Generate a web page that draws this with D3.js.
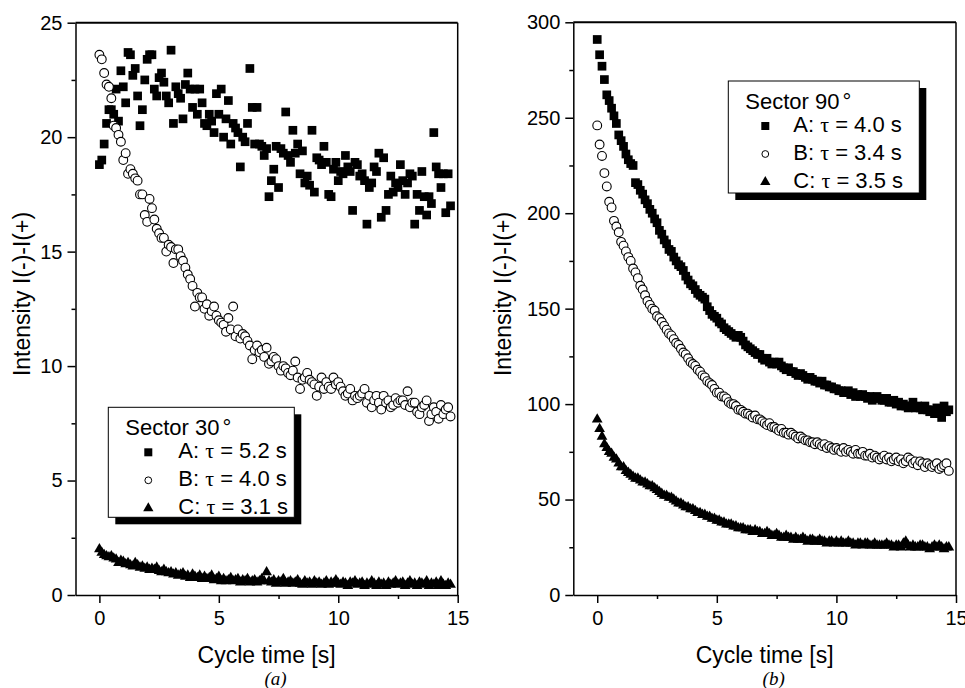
<!DOCTYPE html>
<html>
<head>
<meta charset="utf-8">
<script src="https://cdn.jsdelivr.net/npm/d3@7"></script>
<style>
  html, body { margin: 0; padding: 0; background: #fff; }
  svg { display: block; font-family: "Liberation Sans", Arial, Helvetica, sans-serif; }
</style>
</head>
<body>
<div id="chart-container"></div>
<script>
// Cycle time [s] sampling shared by all series
const cycleTime = [
  0.0, 0.1, 0.2, 0.3, 0.4, 0.5, 0.6, 0.7, 0.8, 0.9,
  1.0, 1.1, 1.2, 1.3, 1.4, 1.5, 1.6, 1.7, 1.8, 1.9,
  2.0, 2.1, 2.2, 2.3, 2.4, 2.5, 2.6, 2.7, 2.8, 2.9,
  3.0, 3.1, 3.2, 3.3, 3.4, 3.5, 3.6, 3.7, 3.8, 3.9,
  4.0, 4.1, 4.2, 4.3, 4.4, 4.5, 4.6, 4.7, 4.8, 4.9,
  5.0, 5.1, 5.2, 5.3, 5.4, 5.5, 5.6, 5.7, 5.8, 5.9,
  6.0, 6.1, 6.2, 6.3, 6.4, 6.5, 6.6, 6.7, 6.8, 6.9,
  7.0, 7.1, 7.2, 7.3, 7.4, 7.5, 7.6, 7.7, 7.8, 7.9,
  8.0, 8.1, 8.2, 8.3, 8.4, 8.5, 8.6, 8.7, 8.8, 8.9,
  9.0, 9.1, 9.2, 9.3, 9.4, 9.5, 9.6, 9.7, 9.8, 9.9,
  10.0, 10.1, 10.2, 10.3, 10.4, 10.5, 10.6, 10.7, 10.8, 10.9,
  11.0, 11.1, 11.2, 11.3, 11.4, 11.5, 11.6, 11.7, 11.8, 11.9,
  12.0, 12.1, 12.2, 12.3, 12.4, 12.5, 12.6, 12.7, 12.8, 12.9,
  13.0, 13.1, 13.2, 13.3, 13.4, 13.5, 13.6, 13.7, 13.8, 13.9,
  14.0, 14.1, 14.2, 14.3, 14.4, 14.5, 14.6, 14.7
];

// (a) Sector 30°
const sector30A = [
  18.8, 19.0, 19.7, 20.6, 21.2, 21.2, 21.0, 22.1, 20.7, 22.9,
  22.2, 21.5, 23.7, 23.6, 22.7, 23.0, 21.8, 20.5, 21.2, 22.5,
  23.4, 23.6, 23.6, 22.1, 21.8, 22.6, 22.8, 22.4, 21.8, 21.5,
  23.8, 20.6, 22.2, 21.9, 21.7, 20.8, 22.3, 22.8, 22.1, 21.3,
  22.1, 21.0, 22.1, 21.5, 20.6, 20.5, 21.0, 20.7, 20.2, 21.9,
  21.0, 22.1, 20.0, 20.8, 21.6, 19.7, 20.6, 20.4, 20.2, 18.7,
  20.0, 19.8, 20.6, 23.0, 21.3, 19.7, 21.3, 19.7, 19.6, 19.2,
  19.5, 17.4, 18.1, 18.6, 19.6, 17.8, 19.5, 19.3, 21.1, 19.2,
  18.9, 20.3, 19.3, 19.7, 18.4, 19.4, 18.0, 18.3, 17.9, 20.3,
  17.6, 19.1, 19.0, 18.8, 19.6, 18.9, 17.5, 17.4, 18.6, 18.9,
  18.1, 18.5, 18.4, 19.2, 18.7, 18.5, 16.8, 18.9, 18.8, 18.3,
  18.4, 18.1, 16.2, 17.8, 18.0, 18.7, 18.5, 19.3, 16.5, 19.1,
  16.8, 17.5, 18.3, 17.6, 18.0, 17.8, 18.8, 18.1, 17.5, 18.0,
  18.4, 18.3, 16.2, 17.5, 16.8, 18.5, 17.4, 16.6, 17.4, 17.1,
  20.2, 18.7, 18.4, 17.8, 18.4, 16.7, 18.4, 17.0
];
const sector30B = [
  23.6, 23.4, 22.8, 22.3, 22.2, 21.7, 20.5, 20.4, 20.1, 19.8,
  19.0, 19.3, 18.4, 18.6, 18.4, 18.2, 18.1, 17.5, 17.5, 16.6,
  16.3, 17.3, 16.9, 16.4, 16.0, 15.8, 15.6, 15.6, 15.0, 15.3,
  15.2, 14.5, 15.1, 15.1, 14.8, 14.6, 14.3, 14.0, 13.8, 13.5,
  12.6, 13.2, 13.0, 13.0, 12.5, 12.7, 12.2, 12.4, 12.6, 12.2,
  12.0, 11.9, 11.8, 11.5, 12.1, 11.6, 12.6, 11.3, 11.6, 11.2,
  11.4, 11.3, 11.1, 10.9, 10.3, 10.7, 10.9, 10.6, 10.7, 10.4,
  10.8, 10.1, 10.2, 10.4, 10.3, 10.0, 9.8, 10.0, 9.9, 9.7,
  9.6, 9.8, 10.2, 9.5, 9.0, 9.4, 9.5, 9.7, 9.4, 9.3,
  9.2, 8.7, 9.1, 9.5, 9.0, 9.3, 9.1, 9.0, 9.5, 9.2,
  9.3, 9.1, 8.9, 8.7, 8.8, 9.0, 8.5, 8.7, 8.6, 8.7,
  8.8, 9.0, 8.4, 8.7, 8.2, 8.5, 8.7, 8.4, 8.1, 8.7,
  8.4, 8.5, 8.2, 8.3, 8.6, 8.4, 8.5, 8.5, 8.3, 8.9,
  8.2, 8.4, 8.4, 8.0, 7.9, 8.2, 8.3, 8.5, 7.6, 7.9,
  8.2, 8.0, 7.7, 8.3, 7.9, 8.1, 8.2, 7.8
];
const sector30C = [
  2.0, 1.85, 1.75, 1.7, 1.65, 1.7, 1.6, 1.55, 1.4, 1.5,
  1.45, 1.35, 1.4, 1.3, 1.25, 1.4, 1.3, 1.2, 1.25, 1.15,
  1.2, 1.1, 1.15, 1.1, 1.2, 1.05, 1.0, 1.1, 1.0, 0.95,
  1.0, 0.9, 0.95, 0.85, 0.9, 0.95, 0.8, 0.85, 0.75, 0.9,
  0.8, 0.75, 0.85, 0.7, 0.8, 0.7, 0.75, 0.85, 0.65, 0.7,
  0.8, 0.6, 0.7, 0.6, 0.65, 0.75, 0.6, 0.65, 0.7, 0.55,
  0.65, 0.6, 0.7, 0.55, 0.6, 0.65, 0.55, 0.6, 0.7, 0.6,
  1.0, 0.6, 0.55, 0.65, 0.5, 0.6, 0.55, 0.7, 0.5, 0.55,
  0.6, 0.5, 0.55, 0.65, 0.5, 0.45, 0.6, 0.5, 0.55, 0.45,
  0.6, 0.5, 0.55, 0.45, 0.5, 0.6, 0.45, 0.55, 0.5, 0.65,
  0.5, 0.45, 0.55, 0.5, 0.4, 0.55, 0.5, 0.6, 0.45, 0.5,
  0.55, 0.4, 0.5, 0.45, 0.6, 0.5, 0.4, 0.55, 0.45, 0.5,
  0.4, 0.55, 0.45, 0.5, 0.6, 0.45, 0.5, 0.55, 0.4, 0.5,
  0.6, 0.45, 0.5, 0.4, 0.55, 0.5, 0.45, 0.6, 0.4, 0.5,
  0.45, 0.55, 0.4, 0.6, 0.45, 0.4, 0.5, 0.45
];

// (b) Sector 90°
const sector90A = [
  291, 283, 277, 270, 262, 259, 255, 251, 247, 241,
  238, 235, 231, 228, 226, 225, 216, 215, 212, 210,
  207, 205, 202, 200, 197, 195, 191, 189, 186, 184,
  181, 180, 177, 175, 173, 172, 170, 167, 165, 163,
  162, 160, 158, 157, 156, 155, 151, 149, 147, 146,
  145, 143, 142, 140, 139, 138, 137, 136, 135, 136,
  135, 133, 131, 130, 129, 128, 127, 126, 126, 124,
  123, 124, 122, 121, 122, 121, 122, 120, 119, 118,
  119, 117, 117, 116, 115, 116, 115, 114, 113, 114,
  113, 112, 112, 111, 112, 110, 110, 109, 109, 108,
  108, 107, 107, 106, 106, 107, 105, 106, 104, 105,
  104, 105, 104, 103, 104, 102, 103, 104, 103, 102,
  102, 103, 101, 101, 102, 100, 101, 99, 100, 99,
  98, 99, 101, 98, 99, 98, 97, 99, 97, 96,
  97, 95, 98, 96, 93, 99, 96, 97
];
const sector90B = [
  246, 236, 230, 221, 214, 206, 203, 196, 193, 190,
  185, 183, 180, 177, 175, 171, 169, 166, 162, 160,
  157, 154, 152, 150, 149, 146, 145, 143, 141, 139,
  137, 136, 134, 132, 131, 129, 127, 126, 124, 122,
  121, 120, 118, 117, 115, 114, 112, 111, 110, 108,
  106, 106, 104, 104, 103, 101, 100, 100, 99, 97,
  97, 96, 95, 95, 94, 93, 94, 92, 92, 91,
  90, 89, 90, 88, 88, 87, 86, 87, 85, 85,
  84, 85, 84, 83, 82, 83, 82, 81, 81, 80,
  80, 79, 80, 79, 78, 79, 77, 78, 77, 76,
  77, 76, 75, 77, 75, 76, 75, 74, 76, 74,
  74, 75, 73, 73, 74, 72, 73, 72, 71, 72,
  73, 71, 72, 70, 71, 72, 70, 71, 69, 70,
  72, 71, 69, 70, 68, 70, 69, 67, 69, 68,
  67, 68, 69, 66, 67, 68, 69, 65
];
const sector90C = [
  92, 87, 83, 79, 77, 75, 74, 72, 71, 69,
  67, 67, 65, 64, 63, 62, 61, 61, 60, 59,
  59, 58, 57, 57, 56, 55, 54, 53, 52, 52,
  51, 51, 50, 49, 48, 48, 47, 46, 46, 45,
  45, 44, 43, 43, 42, 42, 41, 41, 40, 40,
  39, 39, 38, 38, 37, 37, 37, 36, 36, 35,
  35, 35, 34, 34, 34, 33, 34, 33, 33, 32,
  32, 33, 32, 31, 31, 32, 31, 30, 30, 31,
  30, 30, 29, 30, 29, 29, 30, 29, 28, 29,
  29, 28, 28, 29, 28, 28, 27, 28, 28, 27,
  28, 27, 28, 27, 27, 28, 27, 27, 26, 27,
  27, 26, 27, 27, 26, 26, 27, 26, 26, 26,
  26, 27, 26, 26, 25, 26, 26, 25, 27, 28,
  26, 25, 26, 25, 25, 26, 26, 25, 25, 24,
  25, 26, 25, 26, 25, 24, 25, 25
];

// legends and ticks
const legendLabels = ["A: ", "B: ", "C: "];
const legend30Values = ["5.2 s", "4.0 s", "3.1 s"];
const legend90Values = ["4.0 s", "3.4 s", "3.5 s"];
const xTicks = [0, 5, 10, 15];
const xMinorTicks = [2.5, 7.5, 12.5];
const yTicks30 = [0, 5, 10, 15, 20, 25];
const yMinorTicks30 = [2.5, 7.5, 12.5, 17.5, 22.5];
const yTicks90 = [0, 50, 100, 150, 200, 250, 300];
const yMinorTicks90 = [25, 75, 125, 175, 225, 275];

const width = 965;
const height = 688;

const svg = d3.select("#chart-container")
    .append("svg")
    .attr("width", width)
    .attr("height", height);

function drawPanel(cfg) {
    const x = d3.scaleLinear().domain([-1, 15]).range([cfg.left, cfg.right]);
    const y = d3.scaleLinear().domain([0, cfg.yMax]).range([cfg.bottom, cfg.top]);
    const g = svg.append("g");

    // minor ticks
    g.append("g")
        .attr("transform", `translate(${cfg.left},0)`)
        .call(d3.axisLeft(y).tickValues(cfg.yMinor).tickSize(4).tickSizeOuter(0).tickFormat(""))
        .call(s => s.select(".domain").remove());
    g.append("g")
        .attr("transform", `translate(0,${cfg.bottom})`)
        .call(d3.axisBottom(x).tickValues(xMinorTicks).tickSize(4).tickSizeOuter(0).tickFormat(""))
        .call(s => s.select(".domain").remove());

    // major axes
    g.append("g")
        .attr("transform", `translate(${cfg.left},0)`)
        .call(d3.axisLeft(y).tickValues(cfg.yTicks).tickSize(8).tickSizeOuter(0).tickPadding(5));
    g.append("g")
        .attr("transform", `translate(0,${cfg.bottom})`)
        .call(d3.axisBottom(x).tickValues(xTicks).tickSize(8).tickSizeOuter(0).tickPadding(8));

    g.selectAll(".tick text").style("font-size", "20px").attr("fill", "#000");
    g.selectAll(".tick line, .domain").attr("stroke", "#000").attr("stroke-width", 1.5);

    // frame top + right
    g.append("path")
        .attr("d", `M${cfg.left},${cfg.top}H${cfg.right}`)
        .attr("stroke", "#000")
        .attr("stroke-width", 2);
    g.append("path")
        .attr("d", `M${cfg.right},${cfg.top}V${cfg.bottom}`)
        .attr("stroke", "#000")
        .attr("stroke-width", 1.5);

    // series A: filled squares
    g.append("g").selectAll("rect")
        .data(cfg.a)
        .join("rect")
        .attr("x", (d, i) => x(cycleTime[i]) - cfg.sq / 2)
        .attr("y", d => y(d) - cfg.sq / 2)
        .attr("width", cfg.sq)
        .attr("height", cfg.sq)
        .attr("fill", "#000");

    // series B: open circles
    g.append("g").selectAll("circle")
        .data(cfg.b)
        .join("circle")
        .attr("cx", (d, i) => x(cycleTime[i]))
        .attr("cy", d => y(d))
        .attr("r", cfg.r)
        .attr("fill", "#fff")
        .attr("stroke", "#000")
        .attr("stroke-width", 1.1);

    // series C: filled triangles
    const tri = d3.symbol(d3.symbolTriangle, cfg.tri);
    g.append("g").selectAll("path")
        .data(cfg.c)
        .join("path")
        .attr("d", tri)
        .attr("transform", (d, i) => `translate(${x(cycleTime[i])},${y(d)})`)
        .attr("fill", "#000");

    // axis titles
    g.append("text")
        .attr("x", (cfg.left + cfg.right) / 2)
        .attr("y", 663)
        .attr("text-anchor", "middle")
        .style("font-size", "23px")
        .text("Cycle time [s]");
    g.append("text")
        .attr("transform", `translate(${cfg.yTitleX},294) rotate(-90)`)
        .attr("text-anchor", "middle")
        .style("font-size", "23px")
        .text("Intensity I(-)-I(+)");
    g.append("text")
        .attr("x", (cfg.left + cfg.right) / 2 + 9)
        .attr("y", 685)
        .attr("text-anchor", "middle")
        .style("font-family", "'Liberation Serif', 'Times New Roman', serif")
        .style("font-style", "italic")
        .style("font-size", "19px")
        .text(cfg.tag);

    // legend
    const L = cfg.legend;
    const lg = g.append("g").attr("transform", `translate(${L.x},${L.y})`);
    lg.append("rect").attr("x", 7).attr("y", 7).attr("width", L.w).attr("height", L.h).attr("fill", "#000");
    lg.append("rect").attr("width", L.w).attr("height", L.h)
        .attr("fill", "#fff").attr("stroke", "#000").attr("stroke-width", 1);
    const title = lg.append("text").attr("x", 17).attr("y", 28).style("font-size", "22px");
    title.append("tspan").text(L.title);
    title.append("tspan").attr("dx", 3).text("°");

    const rowsY = [51, 79, 107];
    lg.append("rect").attr("x", L.sx - 4).attr("y", rowsY[0] - 6 - 4).attr("width", 8).attr("height", 8).attr("fill", "#000");
    lg.append("circle").attr("cx", L.sx).attr("cy", rowsY[1] - 6).attr("r", 3.4)
        .attr("fill", "#fff").attr("stroke", "#000").attr("stroke-width", 1);
    lg.append("path").attr("d", d3.symbol(d3.symbolTriangle, 46)())
        .attr("transform", `translate(${L.sx},${rowsY[2] - 6})`).attr("fill", "#000");

    L.values.forEach((v, i) => {
        const t = lg.append("text").attr("x", L.tx).attr("y", rowsY[i]).style("font-size", "22px");
        t.append("tspan").text(legendLabels[i]);
        t.append("tspan").style("font-family", "'Liberation Serif', serif").text("τ");
        t.append("tspan").text(" = " + v);
    });
}

drawPanel({
    left: 75.5, right: 457.7, top: 22.7, bottom: 595,
    yMax: 25, yTicks: yTicks30, yMinor: yMinorTicks30,
    a: sector30A, b: sector30B, c: sector30C,
    sq: 8.7, r: 4.4, tri: 50,
    yTitleX: 30, tag: "(a)",
    legend: { x: 108.3, y: 407.3, w: 186, h: 110, title: "Sector 30", values: legend30Values, sx: 40, tx: 70 }
});

drawPanel({
    left: 573.3, right: 956, top: 22.3, bottom: 595,
    yMax: 300, yTicks: yTicks90, yMinor: yMinorTicks90,
    a: sector90A, b: sector90B, c: sector90C,
    sq: 8.7, r: 4.4, tri: 50,
    yTitleX: 511, tag: "(b)",
    legend: { x: 728.3, y: 81, w: 191, h: 112, title: "Sector 90", values: legend90Values, sx: 37, tx: 65 }
});
</script>
</body>
</html>
